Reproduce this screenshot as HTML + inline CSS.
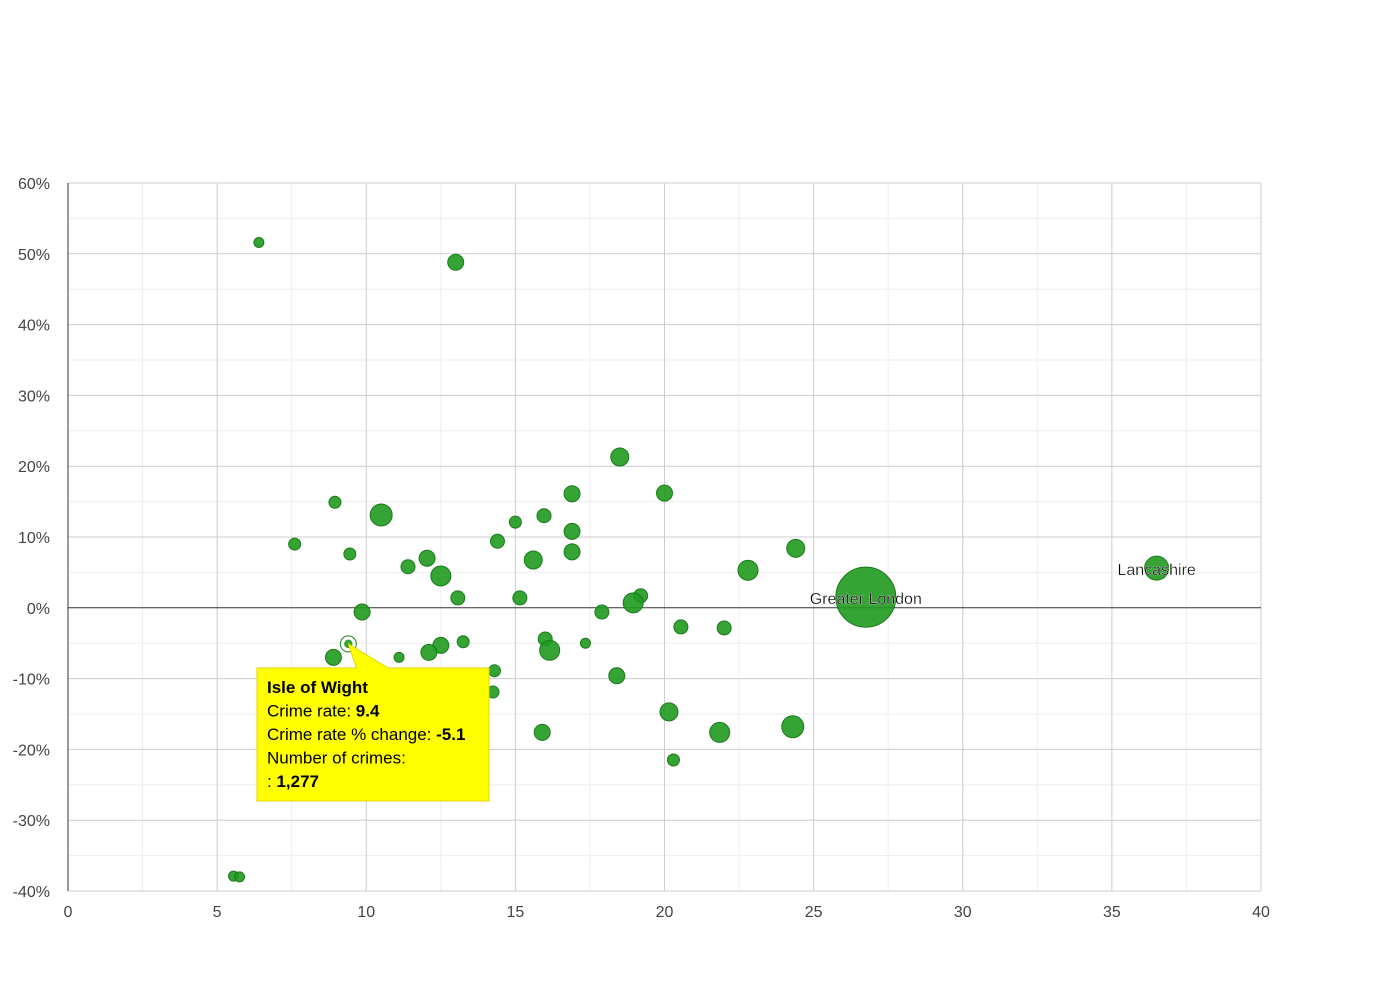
<!DOCTYPE html>
<html><head><meta charset="utf-8"><style>
body{margin:0;background:#fff;font-family:"Liberation Sans",sans-serif}
svg text{font-family:"Liberation Sans",sans-serif}
</style></head><body>
<svg id="chart" width="1390" height="980" xmlns="http://www.w3.org/2000/svg">
<g id="grid"></g>
<g id="axes"></g>
<g id="bubbles"></g>
<g id="labels"></g>
<g id="tip"></g>
</svg>
<script>
const names=["","","","","","","","","","","","","","","","","","","","","Lancashire","Greater London","","","","","","","","","Isle of Wight","","","","","","","","","","","","","","","","","",""];
const crimeRate=[6.4,13.0,18.5,8.95,10.5,16.9,20.0,15.0,15.96,16.9,7.6,14.4,9.45,16.9,12.04,11.4,15.6,12.5,24.4,22.8,36.5,26.75,13.07,15.15,19.2,18.95,9.86,17.9,20.55,22.0,9.4,13.25,16.0,16.15,12.5,17.35,12.1,8.9,11.1,14.3,18.4,14.25,20.15,15.9,21.85,24.3,20.3,5.55,5.75];
const pctChange=[51.6,48.8,21.3,14.9,13.1,16.1,16.2,12.1,13.0,10.8,9.0,9.4,7.6,7.9,7.0,5.8,6.75,4.5,8.4,5.3,5.6,1.5,1.4,1.4,1.7,0.7,-0.6,-0.6,-2.7,-2.85,-5.1,-4.8,-4.4,-6.0,-5.3,-5.0,-6.3,-7.0,-7.0,-8.9,-9.6,-11.9,-14.7,-17.6,-17.6,-16.8,-21.5,-37.9,-38.0];
const crimes=[1277,3270,4140,1840,6180,3270,3270,1840,2500,3270,1840,2500,1840,3270,3270,2500,4140,5110,4140,5110,7360,46000,2500,2500,2500,5110,3270,2500,2500,2500,1277,1840,2500,5110,3270,1277,3270,3270,1277,1840,3270,1840,4140,3270,5110,6180,1840,1277,1277];
const xTicks=[0,5,10,15,20,25,30,35,40];
const yTicks=[60,50,40,30,20,10,0,-10,-20,-30,-40];
const X0=68,X1=1261,Y0=891,Y1=183;
const xs=v=>X0+(v-0)/40*(X1-X0);
const ys=v=>Y0-(v+40)/100*(Y0-Y1);
const rs=c=>5*Math.sqrt(c/1277);
const NS="http://www.w3.org/2000/svg";
function mk(t,a,p){const e=document.createElementNS(NS,t);for(const k in a)e.setAttribute(k,a[k]);p.appendChild(e);return e;}
const grid=document.getElementById('grid'),axes=document.getElementById('axes'),bub=document.getElementById('bubbles'),lab=document.getElementById('labels'),tip=document.getElementById('tip');
for(let v=2.5;v<40;v+=5){const l=mk('line',{x1:xs(v),x2:xs(v),y1:Y1,y2:Y0,stroke:'#eee'},grid);}
for(let v=-35;v<60;v+=10){const l=mk('line',{x1:X0,x2:X1,y1:ys(v),y2:ys(v),stroke:'#eee'},grid);}
xTicks.forEach(v=>{const l=mk('line',{x1:xs(v),x2:xs(v),y1:Y1,y2:Y0,stroke:'#ccc'},grid);
const t=mk('text',{x:xs(v),y:917,'text-anchor':'middle','font-size':16,fill:'#444'},axes);t.textContent=v;});
yTicks.forEach(v=>{const l=mk('line',{x1:X0,x2:X1,y1:ys(v),y2:ys(v),stroke:v===0?'#333':'#ccc'},grid);
const t=mk('text',{x:50,y:ys(v)+6,'text-anchor':'end','font-size':16,fill:'#444'},axes);t.textContent=v+'%';});
const ax=mk('line',{x1:X0,x2:X0,y1:Y1,y2:Y0,stroke:'#333'},axes);
crimeRate.forEach((v,i)=>{const c=mk('circle',{cx:xs(v),cy:ys(pctChange[i]),r:rs(crimes[i]),fill:'#1f9a1f','fill-opacity':0.9,stroke:'#1a7a1a','stroke-width':1},bub);

if(names[i]==='Isle of Wight'){const h=mk('circle',{cx:xs(v),cy:ys(pctChange[i]),r:rs(crimes[i])+3,fill:'none',stroke:'#1a7a1a','stroke-width':1},bub);c.setAttribute('stroke','#fff');c.setAttribute('stroke-width','1.5');}
if(names[i]&&names[i]!=='Isle of Wight'){const t=mk('text',{x:xs(v),y:ys(pctChange[i])+7,'text-anchor':'middle','font-size':16,fill:'#000',stroke:'#fff','stroke-width':0.3},lab);t.textContent=names[i];}
});
const k=names.indexOf('Isle of Wight');const px=xs(crimeRate[k]),py=ys(pctChange[k]);
const p=mk('path',{d:`M257 668 H${px+8} L${px} ${py} L${px+40} 668 H489 V801 H257 Z`,fill:'#ffff00',stroke:'#e6d600','stroke-width':1},tip);
const lines=[['Isle of Wight','',true],['Crime rate: ',crimeRate[k],false],['Crime rate % change: ',pctChange[k],false],['Number of crimes:','',false],[': ',crimes[k].toLocaleString('en-US'),false]];
lines.forEach((L,i)=>{const t=mk('text',{x:267,y:693+i*23.5,'font-size':17,fill:'#000'},tip);
if(L[2]){t.setAttribute('font-weight','bold');t.textContent=L[0];}else{t.textContent=L[0];const b=mk('tspan',{'font-weight':'bold'},t);b.textContent=L[1];}});
</script>
</body></html>
